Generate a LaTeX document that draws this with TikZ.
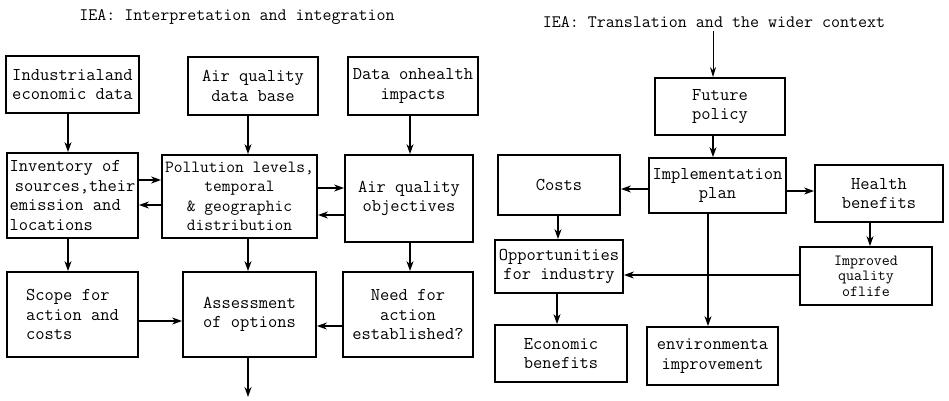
\documentclass[tikz,border=0pt]{standalone}
\usetikzlibrary{arrows.meta}
\begin{document}
\begin{tikzpicture}[x=1pt,y=-1pt,
  box/.style={draw, line width=1.8pt, rectangle, inner sep=0pt, align=center,
    font=\ttfamily\fontsize{18}{19.5}\selectfont},
  arr/.style={line width=1.4pt, -{Stealth[length=10pt,width=7pt]}},
  thinarr/.style={line width=0.9pt, -{Stealth[length=10pt,width=6pt]}},
  ttl/.style={font=\ttfamily\fontsize{17.5}{20}\selectfont, inner sep=0pt}]
\useasboundingbox (0,0) rectangle (949,400);

% titles
\node[ttl] (titleL) at (237,17) {IEA: Interpretation and integration};
\node[ttl] (titleR) at (714,22) {IEA: Translation and the wider context};

% left part
\node[box, minimum width=133, minimum height=57] (ind) at (72.5,84.5) {Industrialand\\economic data};
\node[box, minimum width=130, minimum height=58] (aqdb) at (253,86) {Air quality\\data base};
\node[box, minimum width=130, minimum height=58] (dhi) at (413,86) {Data onhealth\\impacts};

\node[box, align=left, minimum width=131, minimum height=85] (inv) at (72.5,195.5)
  {Inventory of\\\hspace{0.3em}sources,their\\emission and\\locations};
\node[box, minimum width=155, minimum height=83, font=\ttfamily\fontsize{17}{19.5}\selectfont] (poll) at (239.5,196.5)
  {Pollution levels,\\temporal\\\& geographic\\distribution};
\node[box, minimum width=128, minimum height=87] (aqo) at (409,198.5) {Air quality\\objectives};

\node[box, align=left, minimum width=131, minimum height=85] (scope) at (72.5,314.5)
  {Scope for\\action and\\costs};
\node[box, minimum width=133, minimum height=85] (assess) at (249.5,314.5) {Assessment\\of options};
\node[box, minimum width=130, minimum height=85] (need) at (408,314.5) {Need for\\action\\established?};

\coordinate (outL) at (248,397);

% right part
\node[box, minimum width=130, minimum height=57] (future) at (720,106.5) {Future\\policy};
\node[box, minimum width=137, minimum height=55] (impl) at (717.5,185.5) {Implementation\\plan};
\node[box, minimum width=122, minimum height=60] (costs) at (559,185) {Costs};
\node[box, minimum width=128, minimum height=57] (health) at (879,193.5) {Health\\benefits};
\node[box, minimum width=128, minimum height=53] (opp) at (559,266.5) {Opportunities\\for industry};
\node[box, minimum width=132, minimum height=58, font=\ttfamily\fontsize{15.5}{15.5}\selectfont] (improved) at (866,276)
  {Improved\\quality\\oflife};
\node[box, minimum width=132, minimum height=57] (econ) at (561,353.5) {Economic\\benefits};
\node[box, minimum width=131, minimum height=58] (env) at (712.5,356) {environmenta\\improvement};

% left connectors
\draw[arr] (ind.south -| 68,0) -- (inv.north -| 68,0);
\draw[arr] (aqdb.south -| 248,0) -- (poll.north -| 248,0);
\draw[arr] (dhi.south -| 410,0) -- (aqo.north -| 410,0);
\draw[arr] (inv.east |- 0,180) -- (poll.west |- 0,180);
\draw[arr] (poll.west |- 0,205) -- (inv.east |- 0,205);
\draw[arr] (poll.east |- 0,188) -- (aqo.west |- 0,188);
\draw[arr] (aqo.west |- 0,215) -- (poll.east |- 0,215);
\draw[arr] (inv.south -| 68,0) -- (scope.north -| 68,0);
\draw[arr] (poll.south -| 248,0) -- (assess.north -| 248,0);
\draw[arr] (aqo.south -| 410,0) -- (need.north -| 410,0);
\draw[arr] (scope.east |- 0,321) -- (assess.west |- 0,321);
\draw[arr] (need.west |- 0,326) -- (assess.east |- 0,326);
\draw[arr] (assess.south -| outL) -- (outL);

% right connectors
\draw[thinarr] ([yshift=-3pt]titleR.south -| 713,0) -- (future.north -| 713,0);
\draw[arr] (future.south -| 713,0) -- (impl.north -| 713,0);
\draw[arr] (impl.west |- 0,189) -- (costs.east |- 0,189);
\draw[arr] (impl.east |- 0,191) -- (health.west |- 0,191);
\draw[arr] (costs.south -| 558,0) -- (opp.north -| 558,0);
\draw[arr] (health.south -| 870,0) -- (improved.north -| 870,0);
\draw[arr] (improved.west |- 0,275) -- (opp.east |- 0,275);
\draw[arr] (impl.south -| 708,0) -- (env.north -| 708,0);
\draw[arr] (opp.south -| 557,0) -- (econ.north -| 557,0);
\end{tikzpicture}
\end{document}
